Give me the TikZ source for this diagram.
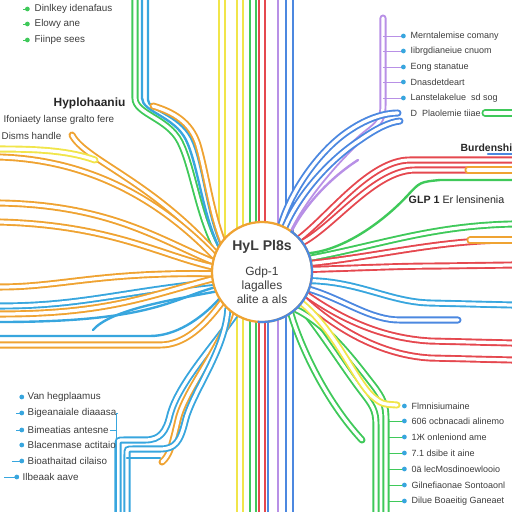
\documentclass[tikz,border=0pt]{standalone}
\usepackage{fontspec}
\setmainfont{Liberation Sans}
\usepackage{xcolor}
\usetikzlibrary{arrows.meta, positioning, backgrounds, calc}
\definecolor{C_ORG}{HTML}{EFA332}
\definecolor{C_YEL}{HTML}{F1E54A}
\definecolor{C_GRN}{HTML}{3FC95A}
\definecolor{C_RED}{HTML}{E5484F}
\definecolor{C_BLU}{HTML}{38A6DE}
\definecolor{C_BLD}{HTML}{4C88E0}
\definecolor{C_PUR}{HTML}{B890E6}
\definecolor{C_TXT}{HTML}{3C3C3C}
\tikzset{
  %% -- central hub --
  mm/hub/.style={
    circle, draw=C_ORG, line width=1.6pt, fill=white,
    minimum size=2.5cm, inner sep=0pt, outer sep=0pt, align=center,
    font=\fontsize{8.5}{10}\selectfont, text=C_TXT
  },
  %% -- double strand --
  mm/dbl/.style={draw=#1, double=white, line width=1.35pt,
    double distance=2.3pt, line cap=round},
  mm/dbl/.default=C_ORG,
  %% -- single strand --
  mm/one/.style={draw=#1, line width=1.7pt, line cap=round},
  mm/one/.default=C_BLD,
  %% -- label tick and bullet --
  mm/tick/.style={draw=#1, line width=0.6pt},
  mm/tick/.default=C_BLU,
  mm/dot/.style={circle, fill=#1, inner sep=0pt, minimum size=3.4pt},
  mm/dot/.default=C_BLU,
  %% -- label text --
  mm/lbl/.style={anchor=west, inner sep=1pt, text=C_TXT,
    font=\fontsize{7}{8}\selectfont},
  mm/lbr/.style={mm/lbl, font=\fontsize{6.4}{8}\selectfont},
  mm/head/.style={anchor=west, inner sep=1pt, text=black!85,
    font=\fontsize{8.5}{10}\selectfont\bfseries},
}
\begin{document}
\begin{tikzpicture}[
  x=0.025cm, y=-0.025cm,
  every node/.style={font=\small},
]
\useasboundingbox (0,0) rectangle (512,512);
%% Hub
\node[mm/hub] (hub) at (262,272)
  {{\fontsize{10}{12}\selectfont\bfseries HyL Pl8s}\\[8pt]
   Gdp-1\\ lagalles\\ alite a als};
\draw[C_BLD, line width=1.6pt]
  (hub.55) arc[start angle=55, end angle=-95, radius=1.25cm];

\begin{scope}[on background layer]
%% Vertical trunk
\draw[mm/dbl=C_YEL] (222,0) -- (222,240);
\draw[mm/dbl=C_YEL] (240,0) -- (240,512);
\draw[mm/dbl=C_GRN] (253,0) -- (253,512);
\draw[mm/dbl=C_RED] (262,0) -- (262,512);
\draw[mm/one=C_BLD] (268,300) -- (268,512);
\draw[mm/one=C_PUR] (278,0) -- (278,512);
\draw[mm/one=C_BLD] (286,0) -- (286,512);
\draw[mm/one=C_BLD] (293,0) -- (293,512);

%% Top-left bundle
\draw[mm/dbl=C_GRN] (135,0) -- (135,98)
  .. controls (135,114) and (168,118) .. (180,142)
  .. controls (193,168) and (198,215) .. (hub.154);
\draw[mm/one=C_BLU] (142,0) -- (142,98)
  .. controls (142,112) and (174,116) .. (186,140)
  .. controls (198,165) and (202,212) .. (hub.150);
\draw[mm/one=C_BLU] (148,0) -- (148,100)
  .. controls (148,110) and (178,114) .. (191,138)
  .. controls (203,162) and (206,210) .. (hub.146);
\draw[mm/dbl=C_ORG] (153,106)
  .. controls (173,112) and (191,122) .. (198,145)
  .. controls (206,172) and (211,212) .. (hub.142);

%% Left bundle
\draw[mm/dbl=C_ORG] (72,135) .. controls (85,160) and (150,180) .. (hub.158);
\draw[mm/dbl=C_YEL] (0,149) .. controls (40,149) and (70,151) .. (95,160);
\draw[mm/dbl=C_ORG] (0,157) .. controls (90,160) and (160,200) .. (hub.162);
\draw[mm/dbl=C_ORG] (0,203) .. controls (110,205) and (160,240) .. (hub.168);
\draw[mm/dbl=C_ORG] (0,222) .. controls (110,225) and (160,255) .. (hub.174);
\draw[mm/dbl=C_ORG] (0,287) .. controls (60,287) and (100,272) .. (hub.182);
\draw[mm/dbl=C_BLU] (0,306) .. controls (80,306) and (120,292) .. (hub.192);
\draw[mm/dbl=C_ORG] (0,314) .. controls (110,314) and (150,295) .. (hub.188);
\draw[mm/one=C_BLU] (0,322) .. controls (150,322) and (170,300) .. (hub.198);
\draw[mm/one=C_BLU] (93,330) .. controls (110,310) and (170,300) .. (hub.203);
\draw[mm/one=C_BLU] (0,336) -- (150,336)
  .. controls (175,336) and (200,320) .. (hub.212);
\draw[mm/dbl=C_ORG] (0,345) -- (160,345)
  .. controls (185,345) and (205,325) .. (hub.217);

%% Lower-left bundle
\draw[mm/dbl=C_BLU] (hub.238)
  .. controls (210,350) and (178,385) .. (170,415)
  .. controls (166,432) and (160,440) .. (145,440) -- (124,440)
  .. controls (118,440) .. (118,446) -- (118,512);
\draw[mm/dbl=C_ORG] (hub.232)
  .. controls (220,350) and (185,390) .. (178,420)
  .. controls (172,445) and (170,455) .. (162,462);
\draw[mm/dbl=C_BLU] (hub.227)
  .. controls (225,352) and (192,392) .. (185,422)
  .. controls (180,442) and (175,449) .. (160,449) -- (133,449)
  .. controls (127,449) .. (127,455) -- (127,512);
\draw[mm/one=C_BLU] (127,458) -- (160,458);

%% Top-right bundle
\draw[mm/one=C_PUR] (hub.54) .. controls (305,205) and (330,178) .. (358,160);
\draw[mm/dbl=C_PUR] (hub.58)
  .. controls (305,195) and (345,150) .. (368,132)
  .. controls (380,123) and (383,118) .. (383,105) -- (383,18);
\draw[mm/dbl=C_BLD] (hub.68)
  .. controls (292,188) and (322,148) .. (350,130)
  .. controls (368,118) and (385,113) .. (398,113);
\draw[mm/dbl=C_BLD] (hub.63)
  .. controls (300,192) and (332,158) .. (360,140)
  .. controls (377,128) and (390,122) .. (400,121);
\draw[mm/dbl=C_GRN] (485,113) -- (512,113);

%% Right bundle
\draw[mm/dbl=C_RED] (hub.42)
  .. controls (330,215) and (370,160) .. (410,160) -- (512,160);
\draw[mm/dbl=C_RED] (hub.36)
  .. controls (335,225) and (375,170) .. (415,170) -- (512,170);
\draw[mm/dbl=C_ORG] (468,170) -- (512,170);
\draw[mm/one=C_BLD] (488,154) -- (512,154);
\draw[mm/one=C_GRN] (hub.22)
  .. controls (345,250) and (385,220) .. (408,195)
  .. controls (420,182) .. (440,180) -- (512,180);
\draw[mm/dbl=C_GRN] (hub.16) .. controls (380,245) and (430,226) .. (512,224);
\draw[mm/dbl=C_RED] (hub.10) .. controls (380,256) and (440,240) .. (512,240);
\draw[mm/dbl=C_ORG] (470,240) -- (512,240);
\draw[mm/dbl=C_RED] (hub.3)
  .. controls (360,268) and (400,266) .. (440,266) -- (512,265);
\draw[mm/dbl=C_BLU] (hub.350)
  .. controls (360,282) and (390,302) .. (430,303) -- (512,305);
\draw[mm/dbl=C_BLD] (hub.340)
  .. controls (345,300) and (370,320) .. (400,320) -- (458,320);
\draw[mm/dbl=C_RED] (hub.333)
  .. controls (340,318) and (380,338) .. (430,341) -- (512,343);
\draw[mm/dbl=C_RED] (hub.327)
  .. controls (335,328) and (380,355) .. (430,358) -- (512,360);

%% Lower-right bundle
\draw[mm/dbl=C_GRN] (hub.318)
  .. controls (320,330) and (345,370) .. (362,392)
  .. controls (372,405) and (376,410) .. (376,425) -- (376,512);
\draw[mm/dbl=C_GRN] (hub.312)
  .. controls (328,325) and (355,362) .. (373,385)
  .. controls (383,398) and (386,405) .. (386,420) -- (386,512);
\draw[mm/dbl=C_GRN] (hub.305) .. controls (300,345) and (325,400) .. (362,440);
\draw[mm/dbl=C_YEL] (hub.322)
  .. controls (335,330) and (355,380) .. (372,396)
  .. controls (382,404) .. (397,405);
\end{scope}

%% Top-left labels
\node[mm/lbl] (tl1) at (33,9)  {Dinlkey idenafaus};
\node[mm/lbl] (tl2) at (33,24) {Elowy ane};
\node[mm/lbl] (tl3) at (33,40) {Fiinpe sees};
\draw[mm/tick=C_GRN] ([xshift=-7pt]tl1.west) -- ([xshift=-4pt]tl1.west) node[mm/dot=C_GRN] {};
\draw[mm/tick=C_GRN] ([xshift=-7pt]tl2.west) -- ([xshift=-4pt]tl2.west) node[mm/dot=C_GRN] {};
\draw[mm/tick=C_GRN] ([xshift=-7pt]tl3.west) -- ([xshift=-4pt]tl3.west) node[mm/dot=C_GRN] {};

%% Left headings
\node[mm/head] (hyp)  at (52,103) {Hyplohaaniu};
\node[mm/lbl]  (hyp2) at (2,120)  {Ifoniaety lanse gralto fere};
\node[mm/lbl]  (dis)  at (0,136)  {Disms handle};

%% Top-right labels
\coordinate (brTR) at (383,20);
\node[mm/lbr] (tr1) at (409,36)  {Merntalemise comany};
\node[mm/lbr] (tr2) at (409,51)  {Iibrgdianeiue cnuom};
\node[mm/lbr] (tr3) at (409,67)  {Eong stanatue};
\node[mm/lbr] (tr4) at (409,82)  {Dnasdetdeart};
\node[mm/lbr] (tr5) at (409,98)  {Lanstelakelue\ \ sd sog};
\node[mm/lbr] (tr6) at (409,113) {D\ \ Plaolemie tiiae};
\draw[mm/tick=C_PUR] (brTR |- tr1) -- ([xshift=-4pt]tr1.west) node[mm/dot] {};
\draw[mm/tick=C_PUR] (brTR |- tr2) -- ([xshift=-4pt]tr2.west) node[mm/dot] {};
\draw[mm/tick=C_PUR] (brTR |- tr3) -- ([xshift=-4pt]tr3.west) node[mm/dot] {};
\draw[mm/tick=C_PUR] (brTR |- tr4) -- ([xshift=-4pt]tr4.west) node[mm/dot] {};
\draw[mm/tick=C_PUR] (brTR |- tr5) -- ([xshift=-4pt]tr5.west) node[mm/dot] {};
\node[anchor=west, inner sep=1pt, font=\fontsize{7.4}{9}\selectfont\bfseries,
  text=black!85] (burd) at (459,148) {Burdenshi};
\node[anchor=west, inner sep=1pt, font=\fontsize{7.6}{9}\selectfont,
  text=black!85] (glp) at (407,200) {\textbf{GLP 1}\ Er lensinenia};

%% Bottom-left labels
\coordinate (brBL) at (116,413);
\node[mm/lbl] (bl1) at (26,397) {Van hegplaamus};
\node[mm/lbl] (bl2) at (26,413) {Bigeanaiale diaaasa};
\node[mm/lbl] (bl3) at (26,430) {Bimeatias antesne};
\node[mm/lbl] (bl4) at (26,445) {Blacenmase actitaio};
\node[mm/lbl] (bl5) at (26,461) {Bioathaitad cilaiso};
\node[mm/lbl] (bl6) at (21,477) {Ilbeaak aave};
\draw[mm/tick] ([xshift=-3pt]bl1.west) node[mm/dot] {};
\draw[mm/tick] ([xshift=-7pt]bl2.west) -- ([xshift=-3pt]bl2.west) node[mm/dot] {};
\draw[mm/tick] ([xshift=-7pt]bl3.west) -- ([xshift=-3pt]bl3.west) node[mm/dot] {};
\draw[mm/tick] ([xshift=-3pt]bl4.west) node[mm/dot] {};
\draw[mm/tick] ([xshift=-10pt]bl5.west) -- ([xshift=-3pt]bl5.west) node[mm/dot] {};
\draw[mm/tick] ([xshift=-12pt]bl6.west) -- ([xshift=-3pt]bl6.west) node[mm/dot] {};
\draw[mm/tick] (bl2.east) -- (brBL) -- (brBL |- 0,512);
\draw[mm/tick] (bl3.east) -- (brBL |- bl3);

%% Bottom-right labels
\coordinate (brBR) at (388,400);
\node[mm/lbr] (br1) at (410,406) {Flmnisiumaine};
\node[mm/lbr] (br2) at (410,421) {606 ocbnacadi alinemo};
\node[mm/lbr] (br3) at (410,437) {1Ж onleniond ame};
\node[mm/lbr] (br4) at (410,453) {7.1 dsibe it aine};
\node[mm/lbr] (br5) at (410,469) {0ä lecMosdinoewlooio};
\node[mm/lbr] (br6) at (410,485) {Gilnefiaonae Sontoaonl};
\node[mm/lbr] (br7) at (410,501) {Dilue Boaeitig Ganeaet};
\draw[mm/tick=C_GRN] ([xshift=-4pt]br1.west) node[mm/dot] {};
\draw[mm/tick=C_GRN] (brBR |- br2) -- ([xshift=-4pt]br2.west) node[mm/dot] {};
\draw[mm/tick=C_GRN] (brBR |- br3) -- ([xshift=-4pt]br3.west) node[mm/dot] {};
\draw[mm/tick=C_GRN] (brBR |- br4) -- ([xshift=-4pt]br4.west) node[mm/dot] {};
\draw[mm/tick=C_GRN] (brBR |- br5) -- ([xshift=-4pt]br5.west) node[mm/dot] {};
\draw[mm/tick=C_GRN] (brBR |- br6) -- ([xshift=-4pt]br6.west) node[mm/dot] {};
\draw[mm/tick=C_GRN] (brBR |- br7) -- ([xshift=-4pt]br7.west) node[mm/dot] {};
\end{tikzpicture}
\end{document}
